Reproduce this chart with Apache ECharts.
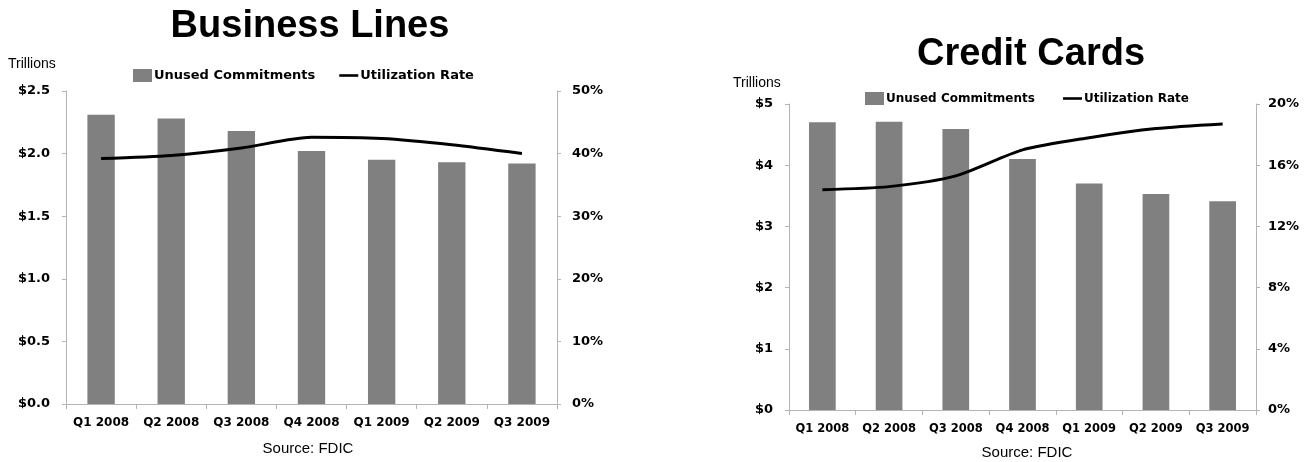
<!DOCTYPE html>
<html>
<head>
<meta charset="utf-8">
<script src="https://cdn.jsdelivr.net/npm/echarts@6/dist/echarts.min.js"></script>
<style>
  html, body { margin: 0; padding: 0; background: #fff; }
  #chart { width: 1306px; height: 462px; }
</style>
</head>
<body>
<div id="chart"></div>
<script>
// Quarterly periods shared by both panels
const quarters = ['Q1 2008', 'Q2 2008', 'Q3 2008', 'Q4 2008', 'Q1 2009', 'Q2 2009', 'Q3 2009'];

// Business lines: unused commitments ($ trillions) and utilization rate (%)
const businessUnused = [2.31, 2.28, 2.18, 2.02, 1.95, 1.93, 1.92];
const businessUtil = [39.2, 39.7, 40.9, 42.6, 42.4, 41.4, 40.0];

// Credit cards: unused commitments ($ trillions) and utilization rate (%)
const cardUnused = [4.70, 4.71, 4.59, 4.10, 3.70, 3.53, 3.41];
const cardUtil = [14.4, 14.6, 15.3, 17.0, 17.8, 18.4, 18.7];

const BAR_COLOR = '#808080';
const AXIS_COLOR = '#b4b4b4';
const BOLD_FONT = 'DejaVu Sans';
const PLAIN_FONT = 'Liberation Sans';
// Short thick stroke used as the legend mark of the rate lines
const LINE_ICON = 'path://M0,0 L22,0 L22,3 L0,3 Z';

const chart = echarts.init(document.getElementById('chart'), null, { renderer: 'canvas' });

function valueAxis(gridIndex, position, min, max, interval, fmt, margin) {
  return {
    type: 'value', gridIndex, position, min, max, interval,
    axisLine: { show: true, lineStyle: { color: AXIS_COLOR, width: 1 } },
    axisTick: { show: true, length: 4, lineStyle: { color: AXIS_COLOR } },
    splitLine: { show: false },
    axisLabel: {
      formatter: fmt, color: '#000', fontFamily: BOLD_FONT, fontWeight: 'bold',
      fontSize: 13, margin
    }
  };
}

function categoryAxis(gridIndex, fontSize) {
  return {
    type: 'category', gridIndex, data: quarters, boundaryGap: true,
    axisLine: { show: true, lineStyle: { color: AXIS_COLOR, width: 1 } },
    axisTick: { show: true, length: 5, alignWithLabel: false, lineStyle: { color: AXIS_COLOR } },
    axisLabel: {
      interval: 0, color: '#000', fontFamily: BOLD_FONT, fontWeight: 'bold', fontSize, margin: 13
    }
  };
}

function legend(left, top, fontSize, gap, names) {
  return {
    left, top, itemWidth: 19, itemHeight: 13, itemGap: gap,
    textStyle: { color: '#000', fontFamily: BOLD_FONT, fontWeight: 'bold', fontSize, padding: [0, 0, 0, -3] },
    selectedMode: false,
    data: [
      { name: names[0], icon: 'rect' },
      { name: names[1], icon: LINE_ICON }
    ]
  };
}

const option = {
  backgroundColor: '#fff',
  animation: false,
  grid: [
    { left: 66, right: 749, top: 91, bottom: 58 },
    { left: 789, right: 50, top: 104, bottom: 52 }
  ],
  xAxis: [categoryAxis(0, 12), categoryAxis(1, 11.5)],
  yAxis: [
    valueAxis(0, 'left', 0, 2.5, 0.5, v => '$' + v.toFixed(1), 16),
    valueAxis(0, 'right', 0, 50, 10, v => v + '%', 15),
    valueAxis(1, 'left', 0, 5, 1, v => '$' + v, 16),
    valueAxis(1, 'right', 0, 20, 4, v => v + '%', 12)
  ],
  legend: [
    legend(128, 64, 13, 24, ['Unused Commitments', 'Utilization Rate']),
    legend(860, 87, 12, 24, ['Unused Commitments ', 'Utilization Rate '])
  ],
  series: [
    {
      name: 'Unused Commitments', type: 'bar', xAxisIndex: 0, yAxisIndex: 0,
      data: businessUnused, barWidth: '39%', itemStyle: { color: BAR_COLOR }
    },
    {
      name: 'Utilization Rate', type: 'line', xAxisIndex: 0, yAxisIndex: 1,
      data: businessUtil, smooth: 0.25, symbol: 'none',
      lineStyle: { color: '#000', width: 3 }, itemStyle: { color: '#000' }
    },
    {
      name: 'Unused Commitments ', type: 'bar', xAxisIndex: 1, yAxisIndex: 2,
      data: cardUnused, barWidth: '40%', itemStyle: { color: BAR_COLOR }
    },
    {
      name: 'Utilization Rate ', type: 'line', xAxisIndex: 1, yAxisIndex: 3,
      data: cardUtil, smooth: 0.25, symbol: 'none',
      lineStyle: { color: '#000', width: 3 }, itemStyle: { color: '#000' }
    }
  ],
  graphic: [
    { type: 'text', x: 310, y: 27, style: { text: 'Business Lines', font: 'bold 38px "Liberation Sans"', fill: '#000', align: 'center', verticalAlign: 'middle' } },
    { type: 'text', x: 1031, y: 55, style: { text: 'Credit Cards', font: 'bold 38px "Liberation Sans"', fill: '#000', align: 'center', verticalAlign: 'middle' } },
    { type: 'text', x: 8, y: 64, style: { text: 'Trillions', font: '14px "Liberation Sans"', fill: '#000', align: 'left', verticalAlign: 'middle' } },
    { type: 'text', x: 733, y: 83, style: { text: 'Trillions', font: '14px "Liberation Sans"', fill: '#000', align: 'left', verticalAlign: 'middle' } },
    { type: 'text', x: 308, y: 449, style: { text: 'Source: FDIC', font: '15px "Liberation Sans"', fill: '#000', align: 'center', verticalAlign: 'middle' } },
    { type: 'text', x: 1027, y: 453, style: { text: 'Source: FDIC', font: '15px "Liberation Sans"', fill: '#000', align: 'center', verticalAlign: 'middle' } }
  ]
};

chart.setOption(option);
</script>
</body>
</html>
